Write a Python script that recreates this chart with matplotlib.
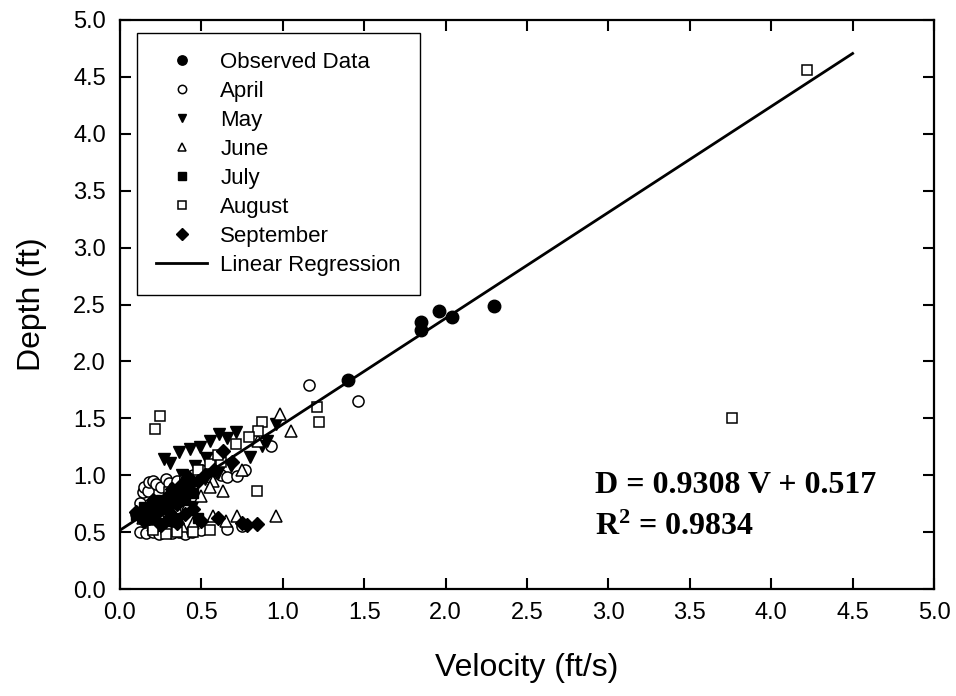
import matplotlib
matplotlib.use("Agg")
import matplotlib.pyplot as plt
import numpy as np

plt.rcParams['font.family'] = ['Liberation Sans', 'DejaVu Sans']
plt.rcParams['mathtext.fontset'] = 'custom'
plt.rcParams['mathtext.rm'] = 'Liberation Serif:bold'
plt.rcParams['mathtext.bf'] = 'Liberation Serif:bold'

obs_v = [1.85, 1.85, 1.96, 2.04, 2.30, 1.40]
obs_d = [2.35, 2.28, 2.44, 2.39, 2.49, 1.84]

apr_v = [0.10, 0.12, 0.14, 0.15, 0.17, 0.18, 0.20, 0.22, 0.25, 0.28, 0.30, 0.33, 0.35,
         0.38, 0.40, 0.45, 0.50, 0.55, 0.57, 0.62, 0.66, 0.72, 0.77, 0.93, 1.16, 1.46,
         0.12, 0.16, 0.20, 0.24, 0.28, 0.32, 0.36, 0.40, 0.44, 0.50, 0.66, 0.75, 0.22, 0.26]
apr_d = [0.66, 0.76, 0.85, 0.90, 0.86, 0.94, 0.95, 0.92, 0.90, 0.97, 0.93, 0.90, 0.95,
         0.88, 0.97, 1.00, 1.05, 0.98, 1.14, 1.00, 0.98, 0.99, 1.05, 1.26, 1.79, 1.65,
         0.50, 0.49, 0.50, 0.48, 0.50, 0.49, 0.50, 0.48, 0.50, 0.52, 0.53, 0.55, 0.55, 0.60]

may_v = [0.27, 0.31, 0.36, 0.43, 0.49, 0.55, 0.61, 0.71, 0.66, 0.80, 0.87, 0.96, 0.90,
         0.15, 0.20, 0.25, 0.30, 0.35, 0.40, 0.45, 0.52, 0.60, 0.68, 0.22, 0.33, 0.44,
         0.38, 0.46, 0.53]
may_d = [1.14, 1.11, 1.20, 1.23, 1.25, 1.30, 1.36, 1.38, 1.33, 1.16, 1.26, 1.45, 1.30,
         0.62, 0.70, 0.75, 0.80, 0.85, 0.88, 0.92, 0.97, 1.02, 1.08, 0.58, 0.66, 0.72,
         1.00, 1.08, 1.15]

jun_v = [0.98, 1.05, 0.57, 0.63, 0.57, 0.72, 0.96, 0.85, 0.45, 0.38, 0.30, 0.20, 0.25,
         0.50, 0.42, 0.35, 0.55, 0.75, 0.65, 0.14]
jun_d = [1.54, 1.39, 0.95, 0.86, 0.64, 0.64, 0.64, 1.30, 0.58, 0.55, 0.53, 0.56, 0.62,
         0.82, 0.75, 0.70, 0.90, 1.05, 0.60, 0.62]

jul_v = [0.10, 0.12, 0.15, 0.18, 0.20, 0.22, 0.25, 0.28, 0.30, 0.32, 0.35, 0.38, 0.40,
         0.42, 0.45, 0.48, 0.30, 0.25, 0.18, 0.35]
jul_d = [0.65, 0.68, 0.72, 0.66, 0.75, 0.70, 0.78, 0.72, 0.82, 0.76, 0.80, 0.86, 0.78,
         0.90, 0.84, 0.62, 0.60, 0.58, 0.60, 0.62]

aug_v = [4.22, 3.76, 0.245, 0.215, 0.87, 0.85, 0.79, 0.71, 0.84, 1.21, 1.22, 0.48, 0.55,
         0.62, 0.40, 0.30, 0.20, 0.35, 0.45, 0.55, 0.28, 0.60]
aug_d = [4.56, 1.50, 1.52, 1.41, 1.47, 1.39, 1.34, 1.27, 0.86, 1.60, 1.47, 1.05, 1.10,
         1.12, 0.95, 0.85, 0.52, 0.50, 0.50, 0.52, 0.48, 1.18]

sep_v = [0.10, 0.12, 0.15, 0.18, 0.20, 0.22, 0.25, 0.28, 0.30, 0.32, 0.35, 0.38, 0.40,
         0.42, 0.45, 0.48, 0.52, 0.58, 0.63, 0.69, 0.60, 0.75, 0.78, 0.84, 0.50, 0.35,
         0.25, 0.15]
sep_d = [0.68, 0.64, 0.70, 0.62, 0.78, 0.66, 0.72, 0.80, 0.68, 0.88, 0.75, 0.92, 0.66,
         0.98, 0.70, 0.95, 1.00, 1.05, 1.21, 1.12, 0.62, 0.58, 0.56, 0.57, 0.60, 0.58,
         0.56, 0.60]

slope = 0.9308
intercept = 0.517
fit_v = np.array([0.0, 4.5])

fig = plt.figure(figsize=(9.56, 6.96), dpi=100)
ax = fig.add_axes([0.1255, 0.1537, 0.8515, 0.8176])

ms = 8
ax.plot(apr_v, apr_d, 'o', mfc='white', mec='black', ms=ms, mew=1.1, ls='none', label='April')
ax.plot(may_v, may_d, 'v', color='black', ms=ms + 0.5, ls='none', label='May')
ax.plot(jun_v, jun_d, '^', mfc='white', mec='black', ms=ms + 0.5, mew=1.1, ls='none', label='June')
ax.plot(jul_v, jul_d, 's', color='black', ms=ms - 0.5, ls='none', label='July')
ax.plot(aug_v, aug_d, 's', mfc='white', mec='black', ms=ms - 0.5, mew=1.1, ls='none', label='August')
ax.plot(sep_v, sep_d, 'D', color='black', ms=ms - 0.5, ls='none', label='September')
ax.plot(obs_v, obs_d, 'o', color='black', ms=9, ls='none', label='Observed Data')
ax.plot(fit_v, slope * fit_v + intercept, color='black', lw=2, label='Linear Regression')

ticks = np.arange(0, 5.01, 0.5)
ax.set_xlim(0, 5)
ax.set_ylim(0, 5)
ax.set_xticks(ticks)
ax.set_yticks(ticks)
ax.set_xticklabels([f'{t:.1f}' for t in ticks])
ax.set_yticklabels([f'{t:.1f}' for t in ticks])
ax.tick_params(direction='in', length=8, width=1.5, labelsize=17, top=True, right=True)
ax.tick_params(axis='y', pad=10)
ax.tick_params(axis='x', pad=9)
for s in ax.spines.values():
    s.set_linewidth(1.6)

ax.set_xlabel('Velocity (ft/s)', fontsize=23, labelpad=21)
ax.set_ylabel('Depth (ft)', fontsize=23, labelpad=19)

handles, labels = ax.get_legend_handles_labels()
order = ['Observed Data', 'April', 'May', 'June', 'July', 'August', 'September', 'Linear Regression']
hmap = dict(zip(labels, handles))
leg = ax.legend([hmap[k] for k in order], order, loc='upper left', bbox_to_anchor=(0.021, 0.977),
                fontsize=16, markerscale=0.75, handlelength=2.3, labelspacing=0.36,
                borderpad=0.85, borderaxespad=0, handletextpad=0.6, fancybox=False,
                framealpha=1, edgecolor='black')
leg.get_frame().set_linewidth(1.0)

serif = ['Liberation Serif', 'DejaVu Serif']
ax.text(0.584, 0.168, 'D = 0.9308 V + 0.517', transform=ax.transAxes, fontsize=23,
        fontweight='bold', family=serif)
ax.text(0.584, 0.095, r'$\mathbf{R^{2}}$ = 0.9834', transform=ax.transAxes, fontsize=23,
        fontweight='bold', family=serif)

fig.savefig('out.png', dpi=100)
